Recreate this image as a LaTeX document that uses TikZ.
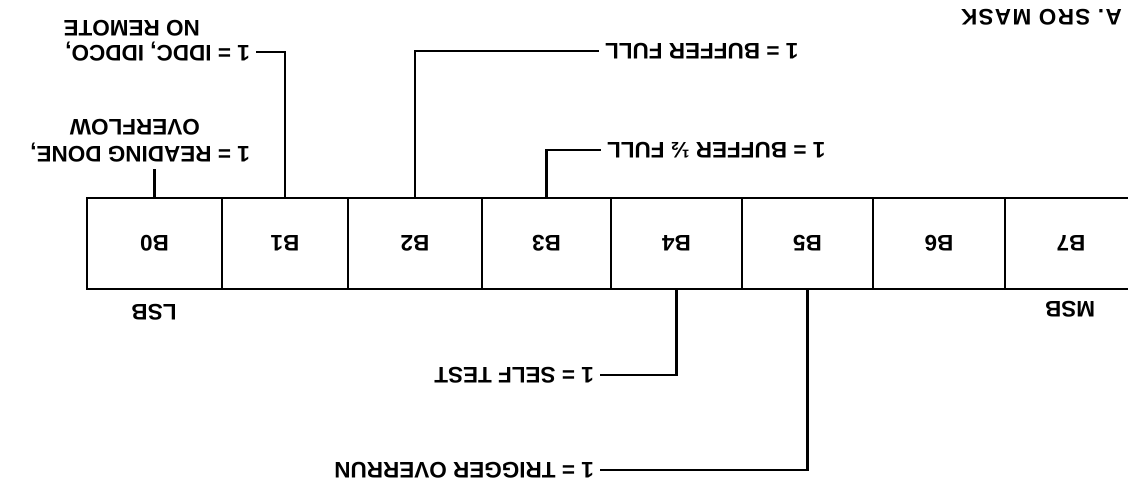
\documentclass[tikz,border=0pt]{standalone}
\usepackage{fontspec}
\setmainfont{Liberation Sans}
\usepackage{graphicx}
\newcommand\ud[1]{\rotatebox{180}{#1}}
\begin{document}
\begin{tikzpicture}[x=1pt,y=-1pt,
  txt/.style={font=\fontsize{22.5}{26}\selectfont\bfseries},
  bitbox/.style={draw, line width=2.5pt, minimum height=91pt, inner sep=0pt, txt},
  lbl/.style={inner sep=6pt, txt},
  conn/.style={line width=2.5pt, line join=miter}
]
\clip (0,0) rectangle (1128,487);
\fill[white] (0,0) rectangle (1128,487);
% bit boxes
\node[bitbox, minimum width=135pt] (b0) at (154.5,243.5) {\ud{B0}};
\node[bitbox, minimum width=126pt] (b1) at (285,243.5) {\ud{B1}};
\node[bitbox, minimum width=134pt] (b2) at (415,243.5) {\ud{B2}};
\node[bitbox, minimum width=129pt] (b3) at (546.5,243.5) {\ud{B3}};
\node[bitbox, minimum width=131pt] (b4) at (676.5,243.5) {\ud{B4}};
\node[bitbox, minimum width=131pt] (b5) at (807.5,243.5) {\ud{B5}};
\node[bitbox, minimum width=132pt] (b6) at (939,243.5) {\ud{B6}};
\node[bitbox, minimum width=132pt] (b7) at (1071,243.5) {\ud{B7}};
% labels
\node[lbl, anchor=east] (l0) at (256,153) {\ud{1 = READING DONE,}};
\node[lbl, anchor=east] (l0b) at (206,127) {\ud{OVERFLOW}};
\node[lbl, anchor=east] (l1) at (256,52) {\ud{1 = IDDC, IDDCO,}};
\node[lbl, anchor=east] (l1b) at (206,28) {\ud{NO REMOTE}};
\node[lbl, anchor=west] (l2) at (599,51) {\ud{1 = BUFFER FULL}};
\node[lbl, anchor=west] (l3) at (601,150) {\ud{1 = BUFFER ½ FULL}};
\node[lbl, anchor=east] (l4) at (600,375) {\ud{1 = SELF TEST}};
\node[lbl, anchor=east] (l5) at (600,470) {\ud{1 = TRIGGER OVERRUN}};
\node[lbl, anchor=east] (title) at (1128,17) {\addfontfeature{LetterSpace=6}\ud{A. SRO MASK}};
\node[lbl] (lsb) at (154,312) {\ud{LSB}};
\node[lbl] (msb) at (1070,309) {\ud{MSB}};
% connectors
\draw[conn] (b0.north) -- (b0.north |- l0.south);
\draw[conn] (b1.north) |- (l1.east);
\draw[conn] (b2.north) |- (l2.west);
\draw[conn] (b3.north) |- (l3.west);
\draw[conn] (b4.south) |- (l4.east);
\draw[conn] (b5.south) |- (l5.east);
\end{tikzpicture}
\end{document}
